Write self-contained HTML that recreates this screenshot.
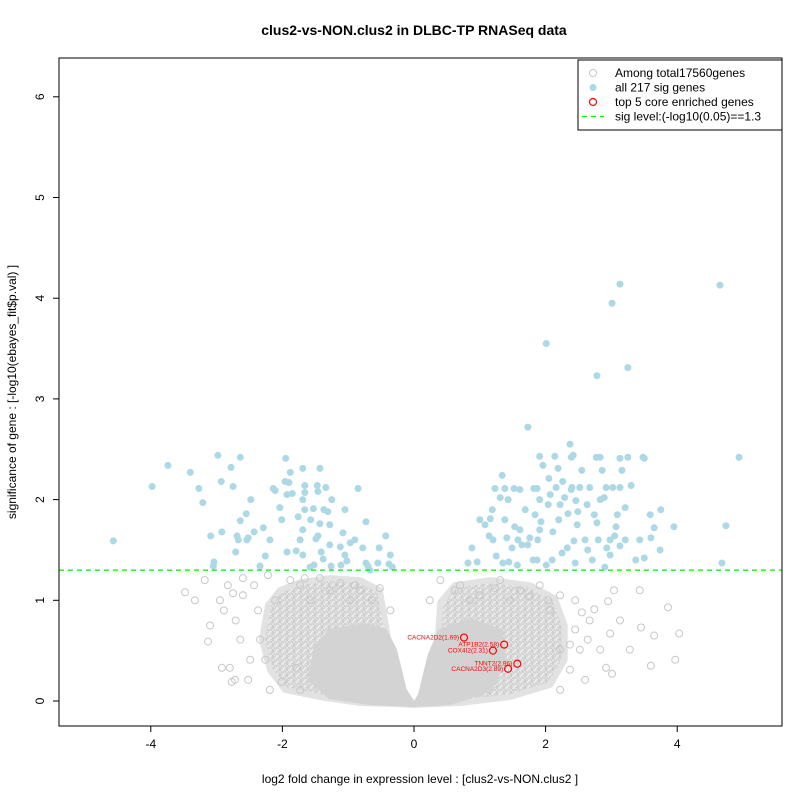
<!DOCTYPE html>
<html><head><meta charset="utf-8"><style>
body{margin:0;background:#fff;}
svg{display:block;font-family:"Liberation Sans",Arial,sans-serif;}
</style></head><body>
<svg id="chart" width="800" height="800"></svg>
<script>
// ---- data (log2 fold change, -log10 p) ----
const xTicks=[-4,-2,0,2,4];
const yTicks=[0,1,2,3,4,5,6];
const sigLevel=1.3;
// outer (moderate density) envelope of non-sig genes
const outerX=[0,-0.29,-0.44,-0.52,-0.82,-1.28,-1.73,-2.04,-2.22,-2.31,-2.19,-1.96,-1.43,-0.82,-0.3,0,0.3,0.7,1.46,2.07,2.29,2.29,2.14,1.76,1.16,0.62,0.40,0.36,0.29];
const outerY=[-0.04,0.21,0.80,1.1,1.2,1.22,1.18,1.1,0.95,0.61,0.31,0.11,0.04,-0.02,-0.03,-0.04,-0.03,-0.02,0.04,0.16,0.41,0.75,1.02,1.15,1.2,1.15,0.98,0.61,0.11];
// dense solid core
const coreX=[0,-0.14,-0.29,-0.44,-0.74,-1.28,-1.5,-1.58,-1.28,-0.67,0,0.55,1.16,1.38,1.31,0.85,0.40,0.24,0.09];
const coreY=[-0.04,0.11,0.51,0.70,0.75,0.70,0.51,0.21,0.04,-0.02,-0.04,-0.02,0.11,0.41,0.70,0.80,0.70,0.46,0.06];
// scattered non-sig genes (pixel-estimated -> data)
const grayPx=[[185,592],[208,642],[222,668],[230,668],[233,593],[236,620],[220,600],[243,578],[248,680],[258,610],[260,640],[250,660],[265,660],[243,595],[254,585],[268,575],[290,580],[300,585],[320,578],[340,583],[360,590],[380,588],[390,610],[270,690],[282,682],[440,580],[460,585],[480,595],[500,580],[520,590],[540,585],[560,595],[575,600],[582,612],[590,620],[594,609],[600,650],[606,668],[610,634],[612,674],[614,590],[640,590],[641,627],[651,666],[654,636],[668,607],[679,634],[675,660],[608,601],[580,650],[570,670],[560,690],[430,600],[330,590],[224,610],[240,640],[195,600],[210,625],[275,600],[310,600],[350,600],[470,600],[510,600],[550,610],[620,620],[630,650],[585,680],[205,580],[228,585],[235,680],[232,682],[300,690],[296,668],[575,630],[570,645],[588,640],[560,650],[372,600],[355,585],[305,578],[455,590],[495,588],[530,596],[548,600]];
const grayX=grayPx.map(p=>+((p[0]-414)/65.8).toFixed(2));
const grayY=grayPx.map(p=>+((701-p[1])/100.7).toFixed(2));
const sigPx=[[113,541],[152,487],[168,465],[190,472],[199,489],[203,503],[211,536],[214,562],[218,455],[221,481],[222,532],[231,467],[233,487],[237,536],[240,457],[246,514],[238,540],[247,540],[251,500],[263,528],[265,556],[270,540],[273,489],[275,491],[280,508],[282,520],[285,481],[286,458],[287,495],[287,552],[290,472],[292,494],[296,551],[298,517],[300,540],[303,555],[305,485],[303,468],[305,493],[311,520],[313,509],[316,539],[317,486],[318,536],[320,524],[324,510],[326,488],[328,512],[330,545],[332,500],[340,547],[343,533],[345,510],[347,561],[305,510],[318,492],[321,552],[323,559],[330,525],[331,566],[341,565],[350,543],[358,489],[363,548],[366,522],[368,566],[345,555],[355,540],[366,563],[370,570],[378,563],[379,548],[386,536],[389,564],[390,555],[392,567],[310,567],[314,565],[260,566],[213,566],[236,552],[240,521],[248,538],[254,532],[320,468],[303,500],[289,482],[303,530],
[468,563],[472,548],[477,562],[480,520],[485,525],[489,536],[490,519],[492,510],[493,540],[495,489],[496,556],[500,498],[502,475],[503,563],[505,489],[505,520],[507,538],[508,500],[509,562],[512,548],[514,489],[515,527],[517,565],[518,540],[520,490],[520,530],[522,545],[525,510],[528,545],[528,427],[530,538],[533,560],[534,489],[535,515],[537,560],[537,489],[538,540],[540,456],[541,522],[543,465],[546,344],[546,565],[548,505],[549,478],[550,495],[552,560],[553,532],[555,456],[556,488],[558,468],[559,520],[560,505],[562,553],[563,481],[565,498],[567,548],[568,514],[570,444],[571,457],[572,488],[573,455],[574,541],[575,563],[576,501],[577,525],[578,512],[580,488],[582,470],[585,540],[587,505],[588,550],[590,488],[592,560],[594,515],[596,457],[597,523],[598,540],[600,457],[604,498],[606,488],[610,555],[612,303],[615,536],[617,515],[620,284],[620,488],[625,508],[628,368],[628,457],[640,540],[643,457],[651,538],[654,528],[650,515],[661,510],[674,527],[660,550],[600,500],[597,376],[602,470],[605,567],[610,540],[613,488],[616,527],[620,458],[622,470],[625,540],[620,546],[631,485],[636,560],[644,458],[720,285],[722,563],[726,526],[739,457],[644,558],[607,548],[571,490],[540,500],[540,530]];
const sigX=sigPx.map(p=>+((p[0]-414)/65.8).toFixed(2));
const sigY=sigPx.map(p=>+((701-p[1])/100.7).toFixed(2));
const topNames=["CACNA2D2(1.69)","ATP1B2(2.58)","COX4I2(2.31)","TNNT2(2.96)","CACNA2D3(2.89)"];
const topX=[0.76,1.37,1.2,1.57,1.43];
const topY=[0.63,0.56,0.5,0.37,0.32];

// ---- axes ----
const L=59,R=782,T=58,B=726;
const sx=v=>414+v*65.8;
const sy=v=>701-v*100.7;
const NS="http://www.w3.org/2000/svg";
const svg=document.getElementById('chart');
function mk(tag,attrs,parent){const e=document.createElementNS(NS,tag);for(const k in attrs)e.setAttribute(k,attrs[k]);(parent||svg).appendChild(e);return e;}

const title=mk('text',{x:414,y:35,'text-anchor':'middle','font-size':14,'font-weight':'bold'});
title.textContent='clus2-vs-NON.clus2 in DLBC-TP RNASeq data';



const defs=mk('defs',{});
const clip=mk('clipPath',{id:'pc'},defs);mk('rect',{x:L,y:T,width:R-L,height:B-T},clip);
const pat=mk('pattern',{id:'circ',width:7,height:6,patternUnits:'userSpaceOnUse'},defs);
mk('rect',{x:0,y:0,width:7,height:6,fill:'#ececec'},pat);
mk('circle',{cx:3.5,cy:3,r:3.3,fill:'none',stroke:'#cccccc','stroke-width':1},pat);
mk('circle',{cx:0,cy:0,r:3.3,fill:'none',stroke:'#cccccc','stroke-width':1},pat);
mk('circle',{cx:7,cy:6,r:3.3,fill:'none',stroke:'#cccccc','stroke-width':1},pat);

const plot=mk('g',{'clip-path':'url(#pc)'});



const outer=mk('polygon',{points:outerX.map((x,i)=>sx(x)+','+sy(outerY[i])).join(' '),fill:'url(#circ)',stroke:'#e2e2e2','stroke-width':6,'stroke-linejoin':'round'},plot);


const core=mk('polygon',{points:coreX.map((x,i)=>sx(x)+','+sy(coreY[i])).join(' '),fill:'#d3d3d3',stroke:'#d3d3d3','stroke-width':4,'stroke-linejoin':'round'},plot);



grayX.forEach((x,i)=>{const c=mk('circle',{cx:sx(x),cy:sy(grayY[i]),r:3.5,fill:'none',stroke:'#c8c8c8','stroke-width':1},plot);

});

sigX.forEach((x,i)=>{const c=mk('circle',{cx:sx(x),cy:sy(sigY[i]),r:3.5,fill:'#add8e6'},plot);

});

const sl=mk('line',{x1:L,x2:R,y1:sy(sigLevel),y2:sy(sigLevel),stroke:'#00ee00','stroke-width':1.2,'stroke-dasharray':'5,4'},plot);



topX.forEach((x,i)=>{const c=mk('circle',{cx:sx(x),cy:sy(topY[i]),r:3.5,fill:'none',stroke:'#ff0000','stroke-width':1.2},plot);


const t=mk('text',{x:sx(x)-5,y:sy(topY[i])+2,'text-anchor':'end','font-size':6.5,fill:'#ff0000'},plot);
t.textContent=topNames[i];

});

const box=mk('rect',{x:L,y:T,width:R-L,height:B-T,fill:'none',stroke:'#000','stroke-width':1});



xTicks.forEach(v=>{const l=mk('line',{x1:sx(v),x2:sx(v),y1:B,y2:B+6,stroke:'#000'});


const t=mk('text',{x:sx(v),y:B+22,'text-anchor':'middle','font-size':12});t.textContent=v;

});
yTicks.forEach(v=>{const l=mk('line',{x1:L-6,x2:L,y1:sy(v),y2:sy(v),stroke:'#000'});


const t=mk('text',{x:44,y:sy(v),'text-anchor':'middle','font-size':12,transform:`rotate(-90 44 ${sy(v)})`});t.textContent=v;

});

const xl=mk('text',{x:420,y:783,'text-anchor':'middle','font-size':12});
xl.textContent='log2 fold change in expression level : [clus2-vs-NON.clus2 ]';


const yl=mk('text',{x:16,y:392,'text-anchor':'middle','font-size':12,transform:'rotate(-90 16 392)'});
yl.textContent='significance of gene : [-log10(ebayes_fit$p.val) ]';



// legend
const lg=mk('g',{});


mk('rect',{x:578,y:60,width:204,height:70,fill:'#fff',stroke:'#000'},lg);
const items=[['Among total17560genes','gray'],['all 217 sig genes','blue'],['top 5 core enriched genes','red'],['sig level:(-log10(0.05)==1.3','line']];
items.forEach((it,i)=>{const y=73+i*14.5;
if(it[1]==='gray')mk('circle',{cx:593,cy:y,r:3.5,fill:'none',stroke:'#c8c8c8'},lg);
if(it[1]==='blue')mk('circle',{cx:593,cy:y,r:3.5,fill:'#add8e6'},lg);
if(it[1]==='red')mk('circle',{cx:593,cy:y,r:3.5,fill:'none',stroke:'#ff0000','stroke-width':1.2},lg);
if(it[1]==='line')mk('line',{x1:582,x2:604,y1:y,y2:y,stroke:'#00ee00','stroke-dasharray':'5,4','stroke-width':1.2},lg);
const t=mk('text',{x:615,y:y+4,'font-size':12},lg);t.textContent=it[0];

});
</script>
</body></html>
